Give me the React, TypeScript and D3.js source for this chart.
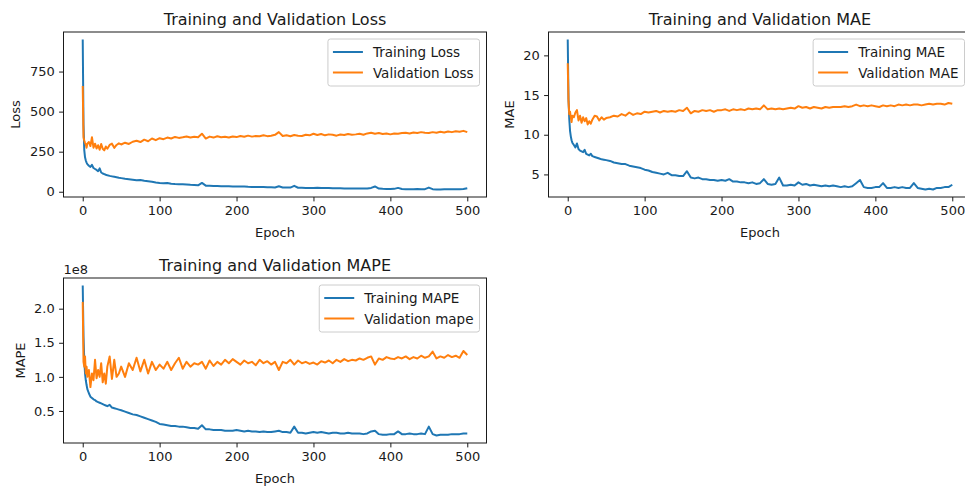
import * as d3 from 'd3';
import React, { useEffect, useRef } from 'react';

// epochs sampled from the curves (dense at the start, every 5 afterwards)
const epochs = [
  0, 1, 2, 3, 4, 5, 6,
  8, 10, 12, 14, 16, 18, 20, 22, 24, 26, 28, 30, 32,
  35, 38, 41, 44, 47, 50,
  55, 60, 65, 70, 75, 80, 85, 90, 95, 100,
  105, 110, 115, 120, 125, 130, 135, 140, 145, 150,
  155, 160, 165, 170, 175, 180, 185, 190, 195, 200,
  205, 210, 215, 220, 225, 230, 235, 240, 245, 250,
  255, 260, 265, 270, 275, 280, 285, 290, 295, 300,
  305, 310, 315, 320, 325, 330, 335, 340, 345, 350,
  355, 360, 365, 370, 375, 380, 385, 390, 395, 400,
  405, 410, 415, 420, 425, 430, 435, 440, 445, 450,
  455, 460, 465, 470, 475, 480, 485, 490, 495, 500,
];

const trainLoss = [
  950, 420, 260, 215, 195, 182, 172,
  162, 155, 168, 148, 142, 136, 128, 146, 120, 114, 110, 106, 103,
  99, 96, 93, 90, 87, 85,
  81, 78, 75, 72, 73, 68, 65, 62, 58, 55,
  53, 55, 50, 48, 47, 46, 45, 43, 42, 40,
  55, 38, 37, 36, 36, 35, 34, 34, 33, 32,
  32, 33, 31, 30, 30, 29, 29, 28, 28, 27,
  34, 27, 26, 26, 37, 25, 25, 24, 24, 24,
  25, 23, 23, 24, 22, 22, 22, 21, 21, 21,
  20, 20, 21, 20, 24, 33, 20, 18, 17, 17,
  18, 24, 17, 16, 16, 16, 17, 16, 16, 26,
  16, 14, 14, 15, 15, 15, 16, 16, 17, 22,
];

const valLoss = [
  660, 340, 320, 305, 295, 275, 300,
  310, 285, 340, 275, 300, 270, 290, 262, 298, 268, 258, 282, 268,
  292, 300, 274, 292, 302, 295,
  306, 298, 312, 318, 310, 325, 315, 332, 322, 334,
  328, 338, 332, 342, 336, 340, 345, 338, 343, 340,
  362, 332, 344, 338, 346, 340, 343, 338, 345, 341,
  348, 343, 350, 344, 348, 346, 352, 347, 350, 355,
  372, 348, 352, 346, 354, 350, 348, 356, 352, 362,
  354, 360, 352, 358, 355, 350, 357, 354, 360, 356,
  358, 362, 356, 364, 368, 362, 366, 360, 364, 358,
  364, 362, 366, 368, 364, 370, 366, 372, 368, 366,
  372, 368, 374, 370, 376, 372, 378, 374, 380, 372,
];

const trainMae = [
  22.0, 14.5, 12.0, 10.5, 9.8, 9.3, 9.0,
  8.7, 8.4, 8.9, 8.2, 8.0, 7.9, 7.8, 8.1, 7.6, 7.5, 7.4, 7.6, 7.3,
  7.2, 7.1, 7.0, 6.9, 6.85, 6.8,
  6.7, 6.5, 6.4, 6.3, 6.3, 6.1, 6.0, 5.9, 5.8, 5.6,
  5.5, 5.3, 5.2, 5.1, 5.0, 5.2, 4.9, 4.9, 4.8, 4.8,
  5.4, 4.6, 4.5, 4.6, 4.4, 4.4, 4.3, 4.3, 4.2, 4.3,
  4.2, 4.4, 4.1, 4.1, 4.0, 4.0, 3.9, 4.0, 3.8, 3.9,
  4.4, 3.8, 3.7, 3.8, 4.6, 3.6, 3.6, 3.7, 3.6, 4.0,
  3.7, 3.8, 3.6, 3.7, 3.6, 3.5, 3.6, 3.5, 3.6, 3.5,
  3.4, 3.5, 3.4, 3.5, 3.9, 4.3, 3.4, 3.3, 3.3, 3.4,
  3.4, 3.9, 3.3, 3.3, 3.4, 3.3, 3.4, 3.3, 3.3, 3.9,
  3.3, 3.2, 3.1, 3.2, 3.1, 3.3, 3.3, 3.4, 3.4, 3.7,
];

const valMae = [
  19.0, 14.2, 12.6, 12.9, 12.2, 11.6, 12.4,
  12.2, 12.8, 13.1, 11.8, 12.4, 11.5, 12.2, 11.7, 12.1, 11.3, 11.7, 11.4, 11.9,
  12.4, 12.3, 11.8, 12.2, 11.9, 12.1,
  12.2, 12.4, 12.3, 12.6, 12.4, 12.8, 12.5, 12.7, 12.6, 12.9,
  12.8, 12.9, 13.0, 12.8, 13.0, 12.9, 13.0, 12.9, 13.1, 13.0,
  13.4, 12.7, 13.0, 12.9, 13.1, 13.0, 13.1, 12.9, 13.1, 13.1,
  13.2, 13.0, 13.2, 13.1, 13.2, 13.1, 13.3, 13.2, 13.3, 13.2,
  13.7, 13.2, 13.3, 13.2, 13.3, 13.2, 13.3, 13.4, 13.3, 13.6,
  13.4, 13.5, 13.3, 13.5, 13.4, 13.3, 13.5, 13.4, 13.5, 13.5,
  13.5, 13.6, 13.5, 13.6, 13.8, 13.6, 13.7, 13.6, 13.7, 13.6,
  13.5, 13.7, 13.6, 13.7, 13.6, 13.8, 13.7, 13.8, 13.7, 13.8,
  13.8, 13.7, 13.8, 13.9, 13.8, 13.9, 13.9, 13.8, 14.0, 13.9,
];

// MAPE values in units of 1e8
const trainMape = [
  2.34, 1.60, 1.25, 1.05, 0.95, 0.88, 0.82,
  0.76, 0.71, 0.69, 0.67, 0.66, 0.64, 0.63, 0.62, 0.61, 0.60, 0.59, 0.58, 0.57,
  0.59, 0.55, 0.54, 0.53, 0.52, 0.51,
  0.49, 0.47, 0.45, 0.44, 0.42, 0.40, 0.38, 0.36, 0.34, 0.31,
  0.30, 0.29, 0.28, 0.28, 0.27, 0.27, 0.26, 0.25, 0.25, 0.24,
  0.29, 0.23, 0.23, 0.22, 0.22, 0.22, 0.21, 0.21, 0.21, 0.22,
  0.21, 0.20, 0.21, 0.20, 0.20, 0.19, 0.20, 0.19, 0.19, 0.20,
  0.21, 0.19, 0.19, 0.18, 0.27, 0.18, 0.18, 0.17, 0.18, 0.19,
  0.18, 0.19, 0.18, 0.17, 0.18, 0.18, 0.17, 0.17, 0.18, 0.17,
  0.17, 0.17, 0.16, 0.17, 0.20, 0.21, 0.16, 0.15, 0.15, 0.16,
  0.16, 0.20, 0.16, 0.16, 0.17, 0.16, 0.16, 0.17, 0.16, 0.27,
  0.16, 0.14, 0.15, 0.15, 0.15, 0.16, 0.16, 0.16, 0.17, 0.17,
];

const valMape = [
  2.10, 1.22, 1.15, 1.30, 1.05, 1.15, 1.00,
  1.10, 0.85, 1.05, 0.95, 1.25, 0.98, 1.10, 1.00, 1.20, 0.92, 1.05, 0.90, 1.15,
  1.30, 0.97, 1.25, 1.00, 1.05, 1.15,
  1.00, 1.20, 1.10, 1.28, 1.08, 1.25, 1.05, 1.22, 1.10, 1.18,
  1.12, 1.22, 1.10, 1.20, 1.28, 1.12, 1.22, 1.15, 1.20, 1.18,
  1.22, 1.12, 1.24, 1.16, 1.22, 1.18, 1.25, 1.20, 1.26, 1.22,
  1.18, 1.24, 1.20, 1.22, 1.17, 1.25, 1.20, 1.23, 1.18, 1.22,
  1.10, 1.22, 1.20, 1.25, 1.18, 1.24, 1.20, 1.22, 1.19, 1.21,
  1.18, 1.23, 1.21, 1.24, 1.20, 1.25, 1.22, 1.26, 1.23, 1.25,
  1.24, 1.27, 1.25, 1.28, 1.30, 1.18, 1.27, 1.25, 1.29, 1.27,
  1.26, 1.29, 1.27, 1.30, 1.26, 1.29, 1.27, 1.31, 1.28, 1.30,
  1.37, 1.27, 1.30, 1.28, 1.32, 1.29, 1.31, 1.28, 1.38, 1.32,
];

const epochTicks = [0, 100, 200, 300, 400, 500];
const lossTicks = [0, 250, 500, 750];
const maeTicks = [5, 10, 15, 20];
const mapeTicks = [0.5, 1.0, 1.5, 2.0];

const BLUE = '#1f77b4';
const ORANGE = '#ff7f0e';
const INK = '#1a1a1a';
const FONT = '"DejaVu Sans", sans-serif';

const panels = [
  {
    title: 'Training and Validation Loss', ylabel: 'Loss', train: trainLoss, val: valLoss,
    yTicks: lossTicks, fmt: d3.format('d'), names: ['Training Loss', 'Validation Loss'],
    left: 63.5, top: 32, offset: '',
  },
  {
    title: 'Training and Validation MAE', ylabel: 'MAE', train: trainMae, val: valMae,
    yTicks: maeTicks, fmt: d3.format('d'), names: ['Training MAE', 'Validation MAE'],
    left: 548.5, top: 32, offset: '',
  },
  {
    title: 'Training and Validation MAPE', ylabel: 'MAPE', train: trainMape, val: valMape,
    yTicks: mapeTicks, fmt: d3.format('.1f'), names: ['Training MAPE', 'Validation mape'],
    left: 63.5, top: 278, offset: '1e8',
  },
];

const W = 423;
const H = 165;

export default function App() {
  const ref = useRef<SVGSVGElement>(null);

  useEffect(() => {
    const svg = d3.select(ref.current);
    svg.selectAll('*').remove();

    panels.forEach((p, i) => {
      const g = svg.append('g').attr('transform', `translate(${p.left},${p.top})`);
      const x = d3.scaleLinear().domain([-25, 525]).range([0, W]);
      const [lo, hi] = d3.extent([...p.train, ...p.val]) as [number, number];
      const pad = (hi - lo) * 0.05;
      const y = d3.scaleLinear().domain([lo - pad, hi + pad]).range([H, 0]);

      g.append('clipPath').attr('id', `clip${i}`)
        .append('rect').attr('width', W).attr('height', H);

      const line = d3.line<number>()
        .x((_, j) => x(epochs[j]))
        .y((d) => y(d));

      const plot = g.append('g').attr('clip-path', `url(#clip${i})`);
      [[p.train, BLUE], [p.val, ORANGE]].forEach(([data, color]) => {
        plot.append('path')
          .datum(data as number[])
          .attr('d', line)
          .attr('fill', 'none')
          .attr('stroke', color as string)
          .attr('stroke-width', 2)
          .attr('stroke-linejoin', 'round');
      });

      const styleAxis = (a: any) => {
        a.select('.domain').remove();
        a.selectAll('line').attr('stroke', INK).attr('stroke-width', 1);
        a.selectAll('text').attr('fill', INK).style('font-size', '13px').style('font-family', FONT);
      };

      g.append('g')
        .attr('transform', `translate(0,${H})`)
        .call(d3.axisBottom(x).tickValues(epochTicks).tickSize(4.4).tickPadding(4.4).tickFormat(d3.format('d')))
        .call(styleAxis);

      const yAxis = g.append('g')
        .call(d3.axisLeft(y).tickValues(p.yTicks).tickSize(4.4).tickPadding(4.4).tickFormat(p.fmt as any))
        .call(styleAxis);

      g.append('rect')
        .attr('width', W).attr('height', H)
        .attr('fill', 'none').attr('stroke', INK).attr('stroke-width', 1);

      let maxW = 0;
      yAxis.selectAll<SVGTextElement, unknown>('text').each(function () {
        maxW = Math.max(maxW, this.getComputedTextLength());
      });

      g.append('text')
        .attr('x', W / 2).attr('y', -7.5)
        .attr('text-anchor', 'middle')
        .style('font-size', '16px').style('font-family', FONT).attr('fill', INK)
        .text(p.title);

      g.append('text')
        .attr('x', W / 2).attr('y', H + 35)
        .attr('text-anchor', 'middle').attr('dominant-baseline', 'central')
        .style('font-size', '13px').style('font-family', FONT).attr('fill', INK)
        .text('Epoch');

      g.append('text')
        .attr('transform', `translate(${-8.8 - maxW - 14},${H / 2}) rotate(-90)`)
        .attr('text-anchor', 'middle').attr('dominant-baseline', 'central')
        .style('font-size', '13px').style('font-family', FONT).attr('fill', INK)
        .text(p.ylabel);

      if (p.offset) {
        g.append('text')
          .attr('x', 0).attr('y', -4)
          .style('font-size', '13px').style('font-family', FONT).attr('fill', INK)
          .text(p.offset);
      }

      // legend, upper right
      const leg = g.append('g');
      const box = leg.append('rect')
        .attr('rx', 2.5).attr('ry', 2.5)
        .attr('fill', 'white').attr('fill-opacity', 0.8)
        .attr('stroke', '#cccccc').attr('stroke-width', 1);
      let textW = 0;
      p.names.forEach((name, k) => {
        const cy = 13 + k * 20.5;
        leg.append('line')
          .attr('x1', 5).attr('x2', 35).attr('y1', cy).attr('y2', cy)
          .attr('stroke', k === 0 ? BLUE : ORANGE).attr('stroke-width', 2);
        const t = leg.append('text')
          .attr('x', 45).attr('y', cy)
          .attr('dominant-baseline', 'central')
          .style('font-size', '13.5px').style('font-family', FONT).attr('fill', INK)
          .text(name);
        textW = Math.max(textW, (t.node() as SVGTextElement).getComputedTextLength());
      });
      const bw = 45 + textW + 6;
      box.attr('width', bw).attr('height', 47);
      leg.attr('transform', `translate(${W - 7 - bw},7)`);
    });
  }, []);

  return (
    <svg
      ref={ref}
      width={965}
      height={486}
      style={{ position: 'absolute', left: 0, top: 0, background: 'white' }}
    />
  );
}
